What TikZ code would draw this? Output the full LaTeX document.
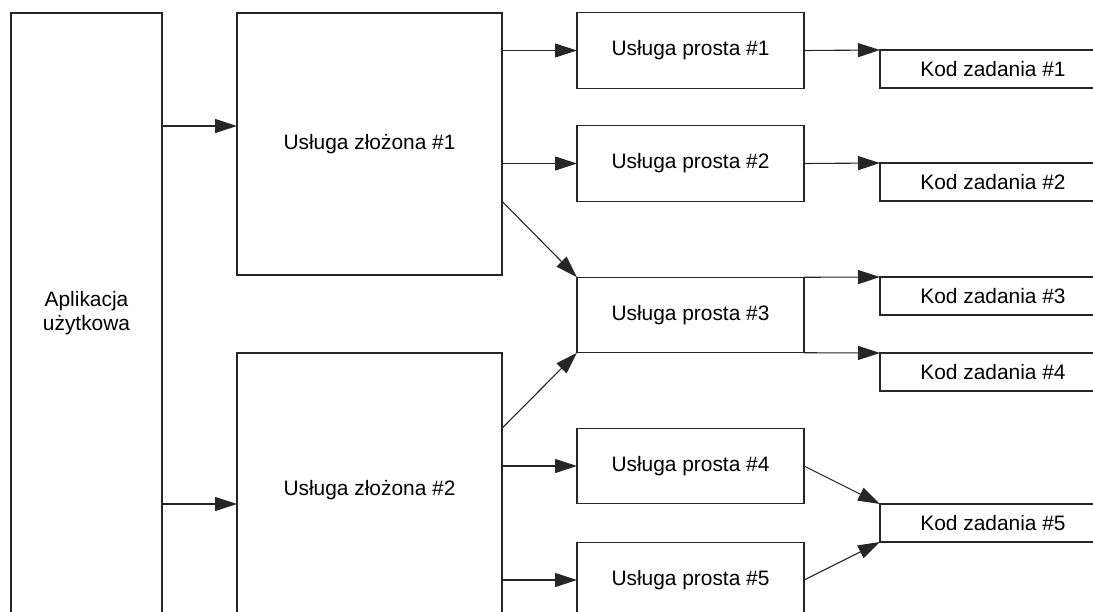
\documentclass[tikz,border=0pt]{standalone}
\usepackage{fontspec}
\setmainfont{Liberation Sans}
\usetikzlibrary{arrows.meta}
\begin{document}
\begin{tikzpicture}[x=1pt,y=-1pt,
  box/.style={draw=black!85,line width=1.1pt,inner sep=0pt,outer sep=0pt,
    font=\fontsize{20.9}{24.5}\selectfont,align=center},
  arr/.style={draw=black!85,line width=1.1pt,
    -{Triangle[length=22pt,width=14pt]}}]
\useasboundingbox (0,0) rectangle (1093,611);
\clip (0,0) rectangle (1093,611);
% application and composite services
\node[box,minimum width=151pt,minimum height=600pt] (app) at (86.5,313) {Aplikacja\\użytkowa};
\node[box,minimum width=265pt,minimum height=262pt] (z1) at (369.5,144) {Usługa złożona \#1};
\node[box,minimum width=265pt,minimum height=274pt] (z2) at (369.5,490) {Usługa złożona \#2};
% simple services
\foreach \i/\y in {1/50.5,2/163.5,3/315,4/466,5/580}
  \node[box,minimum width=227pt,minimum height=75.5pt] (p\i) at (690.5,\y) {Usługa prosta \#\i};
% task code blocks
\foreach \i/\y in {1/69,2/182,3/296,4/372,5/523}
  \node[box,minimum width=226pt,minimum height=38pt] (k\i) at (993,\y) {Kod zadania \#\i};
% connectors
\draw[arr] (app.east |- 0,126) -- (z1.west |- 0,126);
\draw[arr] (app.east |- 0,504) -- (z2.west |- 0,504);
\draw[arr] (z1.east |- p1.west) -- (p1.west);
\draw[arr] (z1.east |- p2.west) -- (p2.west);
\draw[arr] (z1.east |- p2.south) -- (p3.north west);
\draw[arr] (z2.east |- p4.north) -- (p3.south west);
\draw[arr] (z2.east |- p4.west) -- (p4.west);
\draw[arr] (z2.east |- p5.west) -- (p5.west);
\draw[arr] (p1.east) -- (k1.north west);
\draw[arr] (p2.east) -- (k2.north west);
\draw[arr] (p3.north east) -- (k3.north west);
\draw[arr] (p3.south east) -- (k4.north west);
\draw[arr] (p4.east) -- (k5.north west);
\draw[arr] (p5.east) -- (k5.south west);
\end{tikzpicture}
\end{document}
